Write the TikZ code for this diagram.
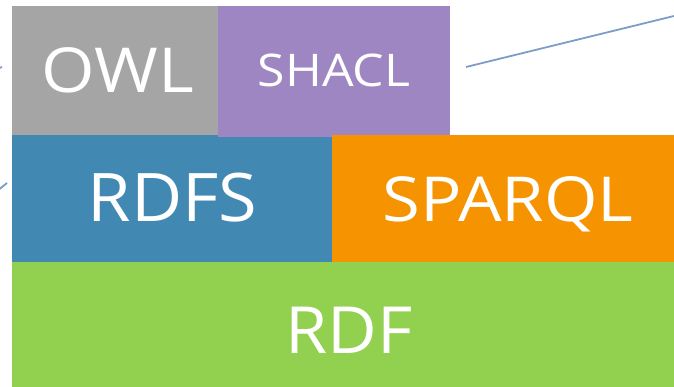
\documentclass[tikz,border=0pt]{standalone}
\usepackage{fontspec}
\setmainfont{Open Sans}
\newfontfamily\widefont[FakeStretch=1.11]{Open Sans}
\newfontfamily\semiwidefont[FakeStretch=1.05]{Open Sans}
\definecolor{owlgray}{HTML}{A5A5A5}
\definecolor{shaclpurple}{HTML}{9E86C2}
\definecolor{rdfsblue}{HTML}{4189B3}
\definecolor{sparqlorange}{HTML}{F59300}
\definecolor{rdfgreen}{HTML}{92D050}
\definecolor{linkblue}{HTML}{7D9DC8}
\begin{document}
\begin{tikzpicture}[x=1pt,y=-1pt,
  lbl/.style={text=white,anchor=base,inner sep=0pt},
  link/.style={draw=linkblue,line width=1.8pt}]
\useasboundingbox (0,0) rectangle (674,387);
% blocks
\fill[owlgray] (12,6) rectangle (218,135);
\fill[shaclpurple] (218,6) rectangle (450,137);
\fill[rdfsblue] (12,135) rectangle (332,262);
\fill[sparqlorange] (332,135) rectangle (674,262);
\fill[shaclpurple] (218,135) rectangle (332,137);
\fill[rdfgreen] (12,262) rectangle (674,387);
% labels
\node[lbl,font=\widefont\fontsize{62}{62}\selectfont] (owl) at (117.5,93) {OWL};
\node[lbl,font=\widefont\fontsize{45}{45}\selectfont] (shacl) at (334,87) {SHACL};
\node[lbl,font=\semiwidefont\fontsize{67}{67}\selectfont] (rdfs) at (172.5,222) {RDFS};
\node[lbl,font=\widefont\fontsize{62}{62}\selectfont] (sparql) at (508,222) {SPARQL};
\node[lbl,font=\semiwidefont\fontsize{65}{65}\selectfont] (rdf) at (349,353) {RDF};
% connectors
\coordinate (s1) at (466,67);
\coordinate (e1) at (674,16);
\draw[link] (s1) -- (e1);
\coordinate (s2) at (7,183);
\coordinate (e2) at (-3,191);
\draw[link] (s2) -- (e2);
\coordinate (s3) at (2,67);
\coordinate (e3) at (-3,69);
\draw[link] (s3) -- (e3);
\end{tikzpicture}
\end{document}
